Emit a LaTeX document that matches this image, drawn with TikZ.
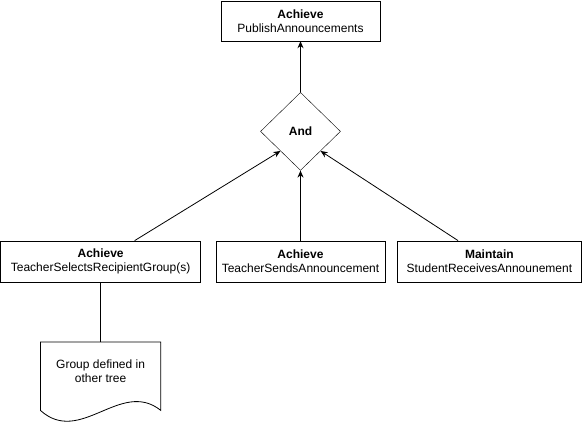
\documentclass[tikz,border=0pt]{standalone}
\usepackage{fontspec}
\setmainfont{Liberation Sans}
\usepackage{tikz}
\usetikzlibrary{positioning,arrows.meta,shapes.geometric,calc}

\begin{document}
\begin{tikzpicture}[
    x=1pt, y=-1pt,
    goal/.style={draw, minimum height=40pt, align=center, inner sep=0pt,
                 font=\fontsize{12}{14}\selectfont},
    andnode/.style={draw, diamond, minimum width=80pt, minimum height=78pt,
                    inner sep=0pt, font=\fontsize{12}{14}\selectfont\bfseries},
    arr/.style={-{Stealth[length=7pt,width=6pt]}, line width=0.8pt},
    conn/.style={line width=0.8pt},
    node distance=51pt
]
\useasboundingbox (0,0) rectangle (584,424);
\node[goal, minimum width=159pt] (publish) at (300.5,21) {\textbf{Achieve}\\PublishAnnouncements};
\node[andnode, below=of publish] (and) {And};
\node[goal, minimum width=169pt, minimum height=41pt, below=70pt of and] (sends) {\textbf{Achieve}\\TeacherSendsAnnouncement};
\node[goal, minimum width=200pt, minimum height=41pt, left=15pt of sends] (selects) {\textbf{Achieve}\\TeacherSelectsRecipientGroup(s)};
\node[goal, minimum width=184pt, minimum height=41pt, right=12pt of sends] (receives) {\textbf{Maintain}\\StudentReceivesAnnounement};
\node[minimum width=120pt, minimum height=58pt, inner sep=0pt, align=center,
      font=\fontsize{12}{14}\selectfont, below=60pt of selects] (doc) {Group defined in\\other tree};

% document shape with wavy bottom
\draw[conn] ($(doc.south west)+(0,10)$) -- (doc.north west) -- (doc.north east)
    -- ($(doc.south east)+(0,10)$)
    .. controls +(-40,-32) and +(40,36) .. ($(doc.south west)+(0,10)$);

\draw[arr] (and) -- (publish);
\draw[arr] ($(selects.north west)!0.67!(selects.north east)$) -- ($(and.west)!0.5!(and.south)$);
\draw[arr] (sends) -- (and);
\draw[arr] ($(receives.north west)!0.33!(receives.north east)$) -- ($(and.east)!0.5!(and.south)$);
\draw[conn] (selects) -- (doc);
\end{tikzpicture}
\end{document}
